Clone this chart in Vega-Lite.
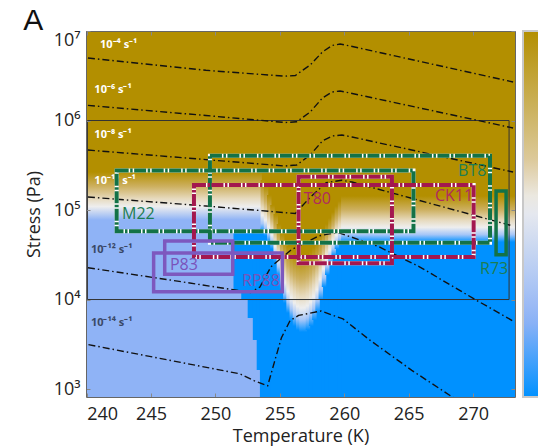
{
  "$schema": "https://vega.github.io/schema/vega-lite/v6.json",
  "width": 429,
  "height": 366,
  "autosize": "none",
  "padding": {"left": 86, "top": 31, "right": 23, "bottom": 51},
  "background": "white",
  "title": {"text": "A", "anchor": "start", "orient": "top", "font": "Liberation Sans", "fontSize": 30, "fontWeight": "normal", "color": "#111", "dx": -2, "dy": 6, "offset": 1},
  "config": {"font": "Open Sans", "view": {"stroke": null}},
  "resolve": {"axis": {"x": "independent", "y": "independent"}},
  "datasets": {
    "base": [
      {"t1": 239, "t2": 274, "s1": 600, "s2": 20000000, "v": 1},
      {"t1": 239, "t2": 253.6, "s1": 600, "s2": 95000, "v": 0.21},
      {"t1": 251.4, "t2": 253.6, "s1": 12770, "s2": 55340, "v": 0},
      {"t1": 252, "t2": 253.6, "s1": 9870, "s2": 55340, "v": 0},
      {"t1": 252.5, "t2": 253.6, "s1": 6214, "s2": 55340, "v": 0},
      {"t1": 252.9, "t2": 253.6, "s1": 3528, "s2": 55340, "v": 0},
      {"t1": 253.2, "t2": 253.6, "s1": 1631, "s2": 55340, "v": 0},
      {"t1": 253.45, "t2": 253.6, "s1": 600, "s2": 55340, "v": 0},
      {"t1": 253.5, "t2": 253.85, "s1": 600, "s2": 62000, "v": 0},
      {"t1": 253.75, "t2": 254.1, "s1": 600, "s2": 56000, "v": 0},
      {"t1": 254, "t2": 254.35, "s1": 600, "s2": 48000, "v": 0},
      {"t1": 254.25, "t2": 254.6, "s1": 600, "s2": 40000, "v": 0},
      {"t1": 254.5, "t2": 254.85, "s1": 600, "s2": 28700, "v": 0},
      {"t1": 254.75, "t2": 255.1, "s1": 600, "s2": 20500, "v": 0},
      {"t1": 255, "t2": 255.35, "s1": 600, "s2": 14000, "v": 0},
      {"t1": 255.25, "t2": 255.6, "s1": 600, "s2": 10000, "v": 0},
      {"t1": 255.5, "t2": 255.85, "s1": 600, "s2": 7700, "v": 0},
      {"t1": 255.75, "t2": 256.1, "s1": 600, "s2": 6450, "v": 0},
      {"t1": 256, "t2": 256.35, "s1": 600, "s2": 5520, "v": 0},
      {"t1": 256.25, "t2": 256.6, "s1": 600, "s2": 4980, "v": 0},
      {"t1": 256.5, "t2": 256.85, "s1": 600, "s2": 4730, "v": 0},
      {"t1": 256.75, "t2": 257.1, "s1": 600, "s2": 4730, "v": 0},
      {"t1": 257, "t2": 257.35, "s1": 600, "s2": 4980, "v": 0},
      {"t1": 257.25, "t2": 257.6, "s1": 600, "s2": 5520, "v": 0},
      {"t1": 257.5, "t2": 257.85, "s1": 600, "s2": 6450, "v": 0},
      {"t1": 257.75, "t2": 258.1, "s1": 600, "s2": 7900, "v": 0},
      {"t1": 258, "t2": 258.35, "s1": 600, "s2": 10800, "v": 0},
      {"t1": 258.25, "t2": 258.6, "s1": 600, "s2": 15000, "v": 0},
      {"t1": 258.5, "t2": 258.85, "s1": 600, "s2": 20500, "v": 0},
      {"t1": 258.75, "t2": 259.1, "s1": 600, "s2": 26500, "v": 0},
      {"t1": 259, "t2": 259.35, "s1": 600, "s2": 33400, "v": 0},
      {"t1": 259.25, "t2": 259.6, "s1": 600, "s2": 40000, "v": 0},
      {"t1": 259.5, "t2": 259.85, "s1": 600, "s2": 44300, "v": 0},
      {"t1": 259.75, "t2": 274, "s1": 600, "s2": 48000, "v": 0}
    ],
    "bandL": [
      {"t1": 239, "t2": 253.6, "hi": 265800, "lo": 77340}
    ],
    "bandB": [
      {"t1": 253.5, "t2": 253.85, "hi": 216400, "lo": 56790},
      {"t1": 253.75, "t2": 254.1, "hi": 185500, "lo": 51230},
      {"t1": 254, "t2": 254.35, "hi": 147100, "lo": 43900},
      {"t1": 254.25, "t2": 254.6, "hi": 113700, "lo": 36670},
      {"t1": 254.5, "t2": 254.85, "hi": 90200, "lo": 26240},
      {"t1": 254.75, "t2": 255.1, "hi": 69770, "lo": 18780},
      {"t1": 255, "t2": 255.35, "hi": 55340, "lo": 12770},
      {"t1": 255.25, "t2": 255.6, "hi": 46200, "lo": 9140},
      {"t1": 255.5, "t2": 255.85, "hi": 39620, "lo": 7068},
      {"t1": 255.75, "t2": 256.1, "hi": 34830, "lo": 5900},
      {"t1": 256, "t2": 256.35, "hi": 32240, "lo": 5055},
      {"t1": 256.25, "t2": 256.6, "hi": 30620, "lo": 4561},
      {"t1": 256.5, "t2": 256.85, "hi": 29850, "lo": 4333},
      {"t1": 256.75, "t2": 257.1, "hi": 30620, "lo": 4333},
      {"t1": 257, "t2": 257.35, "hi": 32240, "lo": 4561},
      {"t1": 257.25, "t2": 257.6, "hi": 34830, "lo": 5055},
      {"t1": 257.5, "t2": 257.85, "hi": 38610, "lo": 5900},
      {"t1": 257.75, "t2": 258.1, "hi": 43900, "lo": 7250},
      {"t1": 258, "t2": 258.35, "hi": 51230, "lo": 9870},
      {"t1": 258.25, "t2": 258.6, "hi": 59770, "lo": 13790},
      {"t1": 258.5, "t2": 258.85, "hi": 69770, "lo": 18780},
      {"t1": 258.75, "t2": 259.1, "hi": 81410, "lo": 24290},
      {"t1": 259, "t2": 259.35, "hi": 95000, "lo": 30620},
      {"t1": 259.25, "t2": 259.6, "hi": 110800, "lo": 36670},
      {"t1": 259.5, "t2": 259.85, "hi": 126100, "lo": 40630},
      {"t1": 259.75, "t2": 274, "hi": 143400, "lo": 43900}
    ],
    "frame": [
      {"t1": 240.06, "t2": 272.79, "s1": 10000, "s2": 1000000}
    ],
    "rates": [
      {"rate": "r4", "t": 240.1, "s": 4994000},
      {"rate": "r4", "t": 249.26, "s": 3638000},
      {"rate": "r4", "t": 255.4, "s": 3126000},
      {"rate": "r4", "t": 256.2, "s": 3183000},
      {"rate": "r4", "t": 257.35, "s": 4170000},
      {"rate": "r4", "t": 258.3, "s": 5826000},
      {"rate": "r4", "t": 259.05, "s": 6887000},
      {"rate": "r4", "t": 259.67, "s": 7157000},
      {"rate": "r4", "t": 260.44, "s": 6798000},
      {"rate": "r4", "t": 273.1, "s": 2693000},
      {"rate": "r6", "t": 240.1, "s": 1475000},
      {"rate": "r6", "t": 249.26, "s": 1137000},
      {"rate": "r6", "t": 255.4, "s": 950000},
      {"rate": "r6", "t": 256.3, "s": 967000},
      {"rate": "r6", "t": 257.35, "s": 1245000},
      {"rate": "r6", "t": 258.3, "s": 1784000},
      {"rate": "r6", "t": 259.05, "s": 2082000},
      {"rate": "r6", "t": 259.67, "s": 2136000},
      {"rate": "r6", "t": 260.44, "s": 2029000},
      {"rate": "r6", "t": 273.1, "s": 825000},
      {"rate": "r8", "t": 240.1, "s": 468100},
      {"rate": "r8", "t": 249.26, "s": 365700},
      {"rate": "r8", "t": 255.4, "s": 310200},
      {"rate": "r8", "t": 256.3, "s": 318300},
      {"rate": "r8", "t": 257.35, "s": 411600},
      {"rate": "r8", "t": 258.3, "s": 590000},
      {"rate": "r8", "t": 259.05, "s": 671200},
      {"rate": "r8", "t": 259.82, "s": 688700},
      {"rate": "r8", "t": 260.6, "s": 654000},
      {"rate": "r8", "t": 273.1, "s": 265800},
      {"rate": "r10", "t": 240.1, "s": 139800},
      {"rate": "r10", "t": 249.26, "s": 110800},
      {"rate": "r10", "t": 256.2, "s": 91400},
      {"rate": "r10", "t": 257.3, "s": 136200},
      {"rate": "r10", "t": 258.6, "s": 202400},
      {"rate": "r10", "t": 259.8, "s": 215300},
      {"rate": "r10", "t": 260.6, "s": 205500},
      {"rate": "r10", "t": 273.1, "s": 66260},
      {"rate": "r12", "t": 240.1, "s": 22660},
      {"rate": "r12", "t": 246.47, "s": 16520},
      {"rate": "r12", "t": 251.9, "s": 12540},
      {"rate": "r12", "t": 252.72, "s": 12000},
      {"rate": "r12", "t": 253.45, "s": 13790},
      {"rate": "r12", "t": 254.31, "s": 23250},
      {"rate": "r12", "t": 255.91, "s": 36210},
      {"rate": "r12", "t": 258.03, "s": 51490},
      {"rate": "r12", "t": 259.5, "s": 56190},
      {"rate": "r12", "t": 262.57, "s": 39620},
      {"rate": "r12", "t": 265.87, "s": 23070},
      {"rate": "r12", "t": 270.04, "s": 10230},
      {"rate": "r12", "t": 273.1, "s": 5750},
      {"rate": "r14", "t": 240.14, "s": 3134},
      {"rate": "r14", "t": 251.9, "s": 1479},
      {"rate": "r14", "t": 252.99, "s": 1242},
      {"rate": "r14", "t": 254.05, "s": 1086},
      {"rate": "r14", "t": 254.58, "s": 2013},
      {"rate": "r14", "t": 255.12, "s": 3743},
      {"rate": "r14", "t": 255.79, "s": 5810},
      {"rate": "r14", "t": 256.45, "s": 6643},
      {"rate": "r14", "t": 258.19, "s": 7437},
      {"rate": "r14", "t": 259.9, "s": 6070},
      {"rate": "r14", "t": 261.92, "s": 3574},
      {"rate": "r14", "t": 265.24, "s": 1618},
      {"rate": "r14", "t": 268.68, "s": 763}
    ],
    "rateLabelsLight": [
      {"lab": "10⁻⁴ s⁻¹", "t": 241.04, "s": 6977000},
      {"lab": "10⁻⁶ s⁻¹", "t": 240.6, "s": 2192000},
      {"lab": "10⁻⁸ s⁻¹", "t": 240.6, "s": 688700},
      {"lab": "10⁻¹⁰ s⁻¹", "t": 240.6, "s": 210900}
    ],
    "rateLabelsDark": [
      {"lab": "10⁻¹² s⁻¹", "t": 240.33, "s": 35740},
      {"lab": "10⁻¹⁴ s⁻¹", "t": 240.33, "s": 5463}
    ],
    "boxesDashed": [
      {"name": "M22", "grp": "g", "t1": 242.33, "t2": 265.37, "s1": 57810, "s2": 275500},
      {"name": "BT8", "grp": "g", "t1": 249.57, "t2": 271.31, "s1": 43110, "s2": 403200},
      {"name": "CK11", "grp": "c", "t1": 248.33, "t2": 270.04, "s1": 29850, "s2": 190300},
      {"name": "T80", "grp": "c", "t1": 256.45, "t2": 263.7, "s1": 25440, "s2": 235000}
    ],
    "boxesSolid": [
      {"name": "R73", "grp": "g", "t1": 271.78, "t2": 272.56, "s1": 31680, "s2": 163100},
      {"name": "P83", "grp": "p", "t1": 246.06, "t2": 251.34, "s1": 19180, "s2": 45040},
      {"name": "RP88", "grp": "p", "t1": 245.2, "t2": 255.19, "s1": 12230, "s2": 33080}
    ],
    "boxLabels": [
      {"lab": "M22", "grp": "g", "t": 242.75, "s": 90200},
      {"lab": "BT8", "grp": "g", "t": 268.83, "s": 276200},
      {"lab": "R73", "grp": "g", "t": 270.54, "s": 22210},
      {"lab": "CK11", "grp": "c", "t": 267.04, "s": 143400},
      {"lab": "T80", "grp": "c", "t": 256.86, "s": 134400},
      {"lab": "P83", "grp": "p", "t": 246.47, "s": 24610},
      {"lab": "RP88", "grp": "p", "t": 252.06, "s": 16310}
    ]
  },
  "layer": [
    {
      "data": {"name": "base"},
      "mark": {"type": "rect", "clip": true},
      "encoding": {
        "x": {"field": "t1", "type": "quantitative", "scale": {"domain": [239.95, 273.25], "nice": false, "zero": false},
          "axis": {"orient": "bottom", "values": [240, 245, 250, 255, 260, 265, 270], "format": "d", "title": "Temperature (K)", "titleFontSize": 18, "titleFontWeight": "normal", "titleColor": "#222", "titleFont": "Open Sans", "titlePadding": 4, "labelFont": "Open Sans", "labelFontSize": 18, "labelColor": "#222", "labelPadding": 12, "tickSize": -4, "tickColor": "#888", "grid": false, "domainColor": "#666", "zindex": 1}},
        "x2": {"field": "t2"},
        "y": {"field": "s1", "type": "quantitative", "scale": {"type": "log", "domain": [814.7, 10000000], "nice": false},
          "axis": {"orient": "left", "values": [1000, 10000, 100000, 1000000, 10000000], "labelExpr": "'10' + ['⁰','¹','²','³','⁴','⁵','⁶','⁷','⁸'][round(log(datum.value)/LN10)]", "labelFlush": true, "title": "Stress (Pa)", "titleFontSize": 18, "titleFontWeight": "normal", "titleColor": "#222", "titleFont": "Open Sans", "titlePadding": 10, "labelFont": "Open Sans", "labelFontSize": 18, "labelColor": "#222", "labelPadding": 10, "tickSize": -4, "tickColor": "#888", "grid": false, "domainColor": "#666", "zindex": 1}},
        "y2": {"field": "s2"},
        "fill": {"field": "v", "type": "quantitative",
          "scale": {"domain": [0, 0.21, 0.53, 0.65, 1], "range": ["#0091FF", "#8FB3F6", "#EEEEEE", "#DCC99A", "#B38F00"], "interpolate": "rgb"},
          "legend": {"orient": "none", "legendX": 437, "legendY": 0, "direction": "vertical", "gradientLength": 366, "gradientThickness": 30, "title": null, "labelExpr": "''", "labelOpacity": 0, "gradientStrokeColor": "#C8C8C8", "gradientStrokeWidth": 2}}
      }
    },
    {
      "data": {"name": "bandL"},
      "mark": {"type": "rect", "clip": true, "color": {"gradient": "linear", "x1": 0, "y1": 0, "x2": 0, "y2": 1, "stops": [
        {"offset": 0, "color": "#B38F00"}, {"offset": 0.3, "color": "#CDB060"}, {"offset": 0.55, "color": "#E6D9BC"}, {"offset": 0.72, "color": "#EEEEEE"}, {"offset": 1, "color": "#8FB3F6"}]}},
      "encoding": {
        "x": {"field": "t1", "type": "quantitative", "axis": null},
        "x2": {"field": "t2"},
        "y": {"field": "hi", "type": "quantitative", "axis": null},
        "y2": {"field": "lo"}
      }
    },
    {
      "data": {"name": "bandB"},
      "mark": {"type": "rect", "clip": true, "color": {"gradient": "linear", "x1": 0, "y1": 0, "x2": 0, "y2": 1, "stops": [
        {"offset": 0, "color": "#B38F00"}, {"offset": 0.3, "color": "#CDB060"}, {"offset": 0.52, "color": "#E6D9BC"}, {"offset": 0.68, "color": "#EEEEEE"}, {"offset": 0.84, "color": "#A5C6F8"}, {"offset": 1, "color": "#0091FF"}]}},
      "encoding": {
        "x": {"field": "t1", "type": "quantitative", "axis": null},
        "x2": {"field": "t2"},
        "y": {"field": "hi", "type": "quantitative", "axis": null},
        "y2": {"field": "lo"}
      }
    },
    {
      "data": {"name": "frame"},
      "mark": {"type": "rect", "filled": false, "stroke": "#333", "strokeWidth": 1, "clip": true},
      "encoding": {
        "x": {"field": "t1", "type": "quantitative", "axis": {"orient": "top", "labels": false, "title": null, "values": [240, 245, 250, 255, 260, 265, 270], "tickSize": -4, "tickColor": "#888", "grid": false, "domainColor": "#666", "zindex": 1}},
        "x2": {"field": "t2"},
        "y": {"field": "s1", "type": "quantitative", "axis": {"orient": "right", "labels": false, "title": null, "values": [1000, 10000, 100000, 1000000, 10000000], "tickSize": -4, "tickColor": "#888", "grid": false, "domainColor": "#666", "zindex": 1}},
        "y2": {"field": "s2"}
      }
    },
    {
      "data": {"name": "rates"},
      "mark": {"type": "line", "clip": true, "stroke": "#111", "strokeWidth": 1.4, "strokeDash": [7, 3, 1.5, 3]},
      "encoding": {
        "x": {"field": "t", "type": "quantitative", "axis": null},
        "y": {"field": "s", "type": "quantitative", "axis": null},
        "detail": {"field": "rate", "type": "nominal"}
      }
    },
    {
      "data": {"name": "rateLabelsLight"},
      "mark": {"type": "text", "align": "left", "baseline": "middle", "fontSize": 11, "fontWeight": "bold", "fill": "#FFFFFF", "font": "Open Sans"},
      "encoding": {
        "x": {"field": "t", "type": "quantitative", "axis": null},
        "y": {"field": "s", "type": "quantitative", "axis": null},
        "text": {"field": "lab"}
      }
    },
    {
      "data": {"name": "rateLabelsDark"},
      "mark": {"type": "text", "align": "left", "baseline": "middle", "fontSize": 11, "fontWeight": "bold", "fill": "#3A4866", "font": "Open Sans"},
      "encoding": {
        "x": {"field": "t", "type": "quantitative", "axis": null},
        "y": {"field": "s", "type": "quantitative", "axis": null},
        "text": {"field": "lab"}
      }
    },
    {
      "data": {"name": "boxesDashed"},
      "mark": {"type": "rect", "filled": false, "stroke": "#FFFFFF", "strokeWidth": 4, "clip": true},
      "encoding": {
        "x": {"field": "t1", "type": "quantitative", "axis": null},
        "x2": {"field": "t2"},
        "y": {"field": "s1", "type": "quantitative", "axis": null},
        "y2": {"field": "s2"}
      }
    },
    {
      "data": {"name": "boxesDashed"},
      "mark": {"type": "rect", "filled": false, "strokeWidth": 4, "strokeDash": [12, 1.5, 2.5, 1.5], "clip": true},
      "encoding": {
        "x": {"field": "t1", "type": "quantitative", "axis": null},
        "x2": {"field": "t2"},
        "y": {"field": "s1", "type": "quantitative", "axis": null},
        "y2": {"field": "s2"},
        "stroke": {"field": "grp", "type": "nominal", "scale": {"domain": ["g", "c", "p"], "range": ["#137247", "#A3184F", "#7D58BE"]}, "legend": null}
      }
    },
    {
      "data": {"name": "boxesSolid"},
      "mark": {"type": "rect", "filled": false, "strokeWidth": 3.5, "clip": true},
      "encoding": {
        "x": {"field": "t1", "type": "quantitative", "axis": null},
        "x2": {"field": "t2"},
        "y": {"field": "s1", "type": "quantitative", "axis": null},
        "y2": {"field": "s2"},
        "stroke": {"field": "grp", "type": "nominal", "scale": {"domain": ["g", "c", "p"], "range": ["#137247", "#A3184F", "#7D58BE"]}, "legend": null}
      }
    },
    {
      "data": {"name": "boxLabels"},
      "mark": {"type": "text", "align": "left", "baseline": "middle", "fontSize": 16, "font": "Open Sans"},
      "encoding": {
        "x": {"field": "t", "type": "quantitative", "axis": null},
        "y": {"field": "s", "type": "quantitative", "axis": null},
        "text": {"field": "lab"},
        "color": {"field": "grp", "type": "nominal", "scale": {"domain": ["g", "c", "p"], "range": ["#1D7D52", "#B02A5E", "#7A52BA"]}, "legend": null}
      }
    }
  ]
}
